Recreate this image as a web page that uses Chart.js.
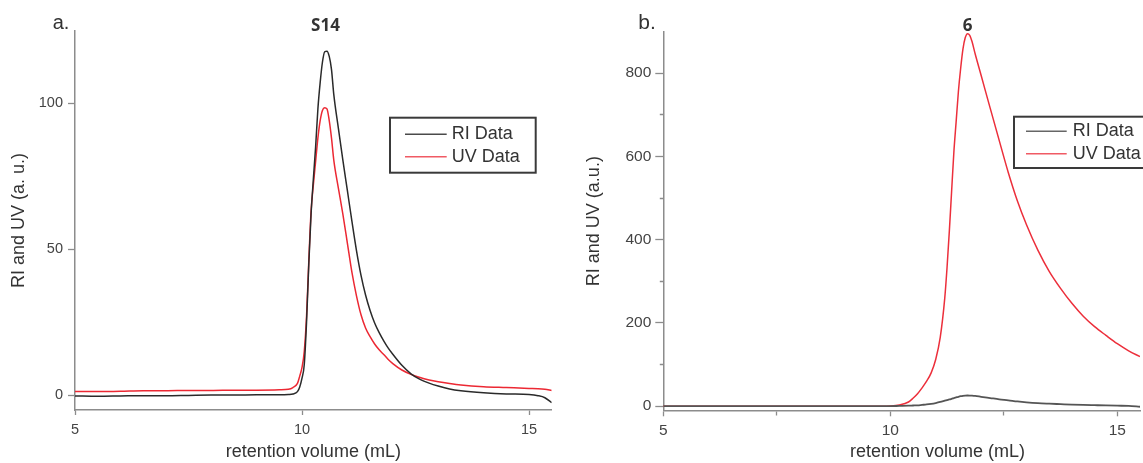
<!DOCTYPE html>
<html><head><meta charset="utf-8">
<script src="https://cdn.jsdelivr.net/npm/chart.js@4.4.0/dist/chart.umd.min.js"></script>
<style>
html,body{margin:0;padding:0;background:#fff;}
#wrap{position:relative;width:1143px;height:463px;overflow:hidden;background:#fff;}
#c1{position:absolute;left:0;top:0;}
#c2{position:absolute;left:580px;top:0;}
</style></head><body>
<div id="wrap">
<canvas id="c1" width="580" height="463"></canvas>
<canvas id="c2" width="563" height="463"></canvas>
</div>
<script>
// ---------- Panel a (S14) ----------
const volA = [5.0,5.5,6.0,6.5,7.0,7.5,8.0,8.5,9.0,9.5,9.7,9.8,9.9,9.95,10.0,10.05,10.1,10.15,10.2,10.25,10.3,10.35,10.4,10.45,10.5,10.55,10.6,10.65,10.7,10.8,10.9,11.0,11.1,11.2,11.3,11.4,11.5,11.6,11.7,11.8,11.9,12.0,12.2,12.4,12.6,12.8,13.0,13.25,13.5,14.0,14.5,15.0,15.2,15.35,15.5];
const riA = [-0.3,-0.4,-0.3,-0.2,-0.2,-0.1,0.0,0.0,0.1,0.1,0.2,0.4,1.2,2.8,5.8,10.5,25,45,62,74,85,98,107,114,117.6,117.8,116,111.5,103,91.5,80.5,70,59.5,49.5,41,34.3,29,24.7,21.4,18.6,16.1,14.0,10.2,7.3,5.4,4.1,3.1,2.1,1.5,0.8,0.4,0.2,-0.2,-0.9,-2.6];
const uvA = [1.2,1.2,1.3,1.5,1.5,1.6,1.6,1.7,1.7,1.8,2.0,2.6,4.0,6.5,9.5,15,27,46,63,72,80,88,94,97.5,98.4,98.0,94,88,80.5,71,62,52,42,34,27.5,23,20,17.5,15.5,13.9,12.2,10.8,8.6,7.1,6.0,5.2,4.6,4.0,3.5,2.9,2.6,2.3,2.2,2.0,1.6];
const xTicksA = [5,10,15];
const yTicksA = [0,50,100];

// ---------- Panel b (6) ----------
const volB = [5,6,7,8,9,9.8,10.0,10.2,10.4,10.5,10.6,10.7,10.8,10.9,11.0,11.1,11.2,11.25,11.3,11.35,11.4,11.45,11.5,11.55,11.6,11.65,11.7,11.75,11.8,11.87,12.0,12.2,12.4,12.6,12.8,13.0,13.25,13.5,13.75,14.0,14.25,14.5,14.75,15.0,15.25,15.5];
const riB = [0,0,0,0,0,0,0,0.5,1,1.5,2,3,4,5.5,7.5,10,13,14.5,16,17.5,19.5,21,22.5,23.8,24.8,25.4,25.6,25.5,25.2,24.5,22.5,19.5,16.5,14,11.2,9,7,5.8,4.8,3.8,3,2.3,1.6,1,0.5,-1.5];
const uvB = [0,0,0,0,0,0,0.5,3,10,19,30,44,60,80,112,165,260,333,420,515,610,683,756,812,858,885,895,891,876,846,795,716,638,561,493,436,375,324,283,247,216,191,170,150,133,119];
const xTicksB = [5,7.5,10,12.5,15];
const xLabelsB = ['5','','10','','15'];
const yTicksB = [0,100,200,300,400,500,600,700,800];
const yLabelsB = ['0','','200','','400','','600','','800'];

const seriesLabels = ['RI Data','UV Data'];
const xTitle = 'retention volume (mL)';
const yTitleA = 'RI and UV (a. u.)';
const yTitleB = 'RI and UV (a.u.)';

const AXIS = '#8c8c8c';
const TXT = '#444';
const FAM = "'Liberation Sans', Arial, sans-serif";

const extras = {
  id: 'extras',
  afterDraw(chart, args, opts) {
    const ctx = chart.ctx;
    ctx.save();
    (opts.texts || []).forEach(t => {
      ctx.font = t.font; ctx.fillStyle = t.color;
      ctx.textAlign = t.align || 'center'; ctx.textBaseline = t.baseline || 'alphabetic';
      ctx.fillText(t.text, t.x, t.y);
    });
    const L = opts.legend;
    if (L) {
      ctx.fillStyle = '#fff';
      ctx.fillRect(L.x, L.y, L.w, L.h);
      ctx.strokeStyle = '#3a3a3a'; ctx.lineWidth = 2;
      ctx.strokeRect(L.x, L.y, L.w, L.h);
      chart.data.datasets.forEach((ds, i) => {
        const y = L.rowY[i];
        ctx.strokeStyle = ds.legendColor || ds.borderColor; ctx.lineWidth = 1.6;
        ctx.beginPath(); ctx.moveTo(L.lineX1, y); ctx.lineTo(L.lineX2, y); ctx.stroke();
        ctx.fillStyle = '#333'; ctx.font = L.font; ctx.textAlign = 'left'; ctx.textBaseline = 'middle';
        ctx.fillText(ds.label, L.textX, y);
      });
    }
    ctx.restore();
  }
};

function pts(xs, ys) { return xs.map((x, i) => ({x: x, y: ys[i]})); }

function makeChart(id, p) {
  return new Chart(document.getElementById(id), {
    type: 'line',
    data: { datasets: [
      { label: seriesLabels[0], data: pts(p.vol, p.ri), borderColor: p.riColor, legendColor: p.riLegend, borderWidth: p.riWidth, pointRadius: 0, cubicInterpolationMode: 'monotone', fill: false },
      { label: seriesLabels[1], data: pts(p.vol, p.uv), borderColor: p.uvColor, legendColor: p.uvLegend, borderWidth: 1.5, pointRadius: 0, cubicInterpolationMode: 'monotone', fill: false }
    ]},
    options: {
      responsive: false, animation: false, devicePixelRatio: 1,
      layout: { padding: p.padding },
      plugins: { legend: { display: false }, tooltip: { enabled: false }, title: { display: false }, extras: p.extras },
      scales: {
        x: {
          type: 'linear', min: 5, max: 15.5,
          afterBuildTicks: s => { s.ticks = p.xTicks.map(v => ({value: v})); },
          afterFit: s => { s.height = p.xHeight; },
          border: { display: true, color: AXIS, width: 1.5 },
          grid: { drawOnChartArea: false, drawTicks: true, tickLength: p.xTickLen, tickColor: AXIS, tickWidth: 1.3,
                  tickBorderDash: c => (c.tick && p.xLabels[p.xTicks.indexOf(c.tick.value)] === '') ? [4, 100] : [] },
          ticks: { autoSkip: false, maxRotation: 0, padding: p.xPad, color: TXT, font: { family: FAM, size: p.tickSize },
                   callback: v => { const i = p.xTicks.indexOf(v); return i >= 0 ? p.xLabels[i] : ''; } },
          title: { display: p.xTitleShow, text: xTitle, color: '#333', font: { family: FAM, size: 18 }, padding: { top: 0, bottom: 0 } }
        },
        y: {
          type: 'linear', min: p.yMin, max: p.yMax,
          afterBuildTicks: s => { s.ticks = p.yTicks.map(v => ({value: v})); },
          afterFit: s => { s.width = p.yWidth; },
          border: { display: true, color: AXIS, width: 1.5 },
          grid: { drawOnChartArea: false, drawTicks: true, tickLength: p.yTickLen, tickColor: AXIS, tickWidth: 1.3,
                  tickBorderDash: c => (c.tick && p.yLabels[p.yTicks.indexOf(c.tick.value)] === '') ? [0, p.yTickLen - 3.5, 3.5, 100] : [] },
          ticks: { autoSkip: false, padding: p.yPad, color: TXT, font: { family: FAM, size: p.tickSize },
                   callback: v => { const i = p.yTicks.indexOf(v); return i >= 0 ? p.yLabels[i] : ''; } },
          title: { display: true, text: p.yTitle, color: '#333', font: { family: FAM, size: 18 }, padding: { top: p.yTitlePad, bottom: 0 } }
        }
      }
    },
    plugins: [extras]
  });
}

makeChart('c1', {
  vol: volA, ri: riA, uv: uvA,
  riColor: '#2a2a2a', riLegend: '#4a4a4a', riWidth: 1.5, uvColor: '#ec2833', uvLegend: '#f05a64',
  padding: { top: 31, right: 28.3, bottom: 0, left: 0 },
  xTicks: xTicksA, xLabels: xTicksA.map(String), xHeight: 53, xTickLen: 5, xPad: 6, xTitleShow: true,
  yTicks: yTicksA, yLabels: yTicksA.map(String), yMin: -5.1, yMax: 124.7, yWidth: 75, yTickLen: 7, yPad: 5,
  tickSize: 14.5, yTitle: yTitleA, yTitlePad: 8,
  extras: {
    texts: [
      { text: 'a.', x: 61, y: 28.5, font: '20px ' + FAM, color: '#333' },
      { text: 'S14', x: 325.5, y: 30.7, font: "bold 17px 'Open Sans', sans-serif", color: '#333' }
    ],
    legend: { x: 390, y: 117.7, w: 145.7, h: 55, lineX1: 405, lineX2: 446.7, rowY: [134.3, 156.7], textX: 451.7, font: '18px ' + FAM }
  }
});

makeChart('c2', {
  vol: volB, ri: riB, uv: uvB,
  riColor: '#555555', riLegend: '#666666', riWidth: 1.8, uvColor: '#ec2f3b', uvLegend: '#f05a64',
  padding: { top: 32, right: 3, bottom: 0, left: 0 },
  xTicks: xTicksB, xLabels: xLabelsB, xHeight: 52.7, xTickLen: 6, xPad: 5, xTitleShow: false,
  yTicks: yTicksB, yLabels: yLabelsB, yMin: -10, yMax: 899, yWidth: 83.3, yTickLen: 8, yPad: 4,
  tickSize: 15.5, yTitle: yTitleB, yTitlePad: 3,
  extras: {
    texts: [
      { text: 'b.', x: 67, y: 28.5, font: '21px ' + FAM, color: '#333' },
      { text: '6', x: 387.5, y: 30.7, font: "bold 17px 'Open Sans', sans-serif", color: '#333' },
      { text: xTitle, x: 357.5, y: 452, font: '18px ' + FAM, color: '#333', baseline: 'middle' }
    ],
    legend: { x: 434, y: 116.7, w: 200, h: 51.3, lineX1: 446, lineX2: 486.7, rowY: [131.3, 153.7], textX: 492.7, font: '18px ' + FAM }
  }
});
</script>
</body></html>
